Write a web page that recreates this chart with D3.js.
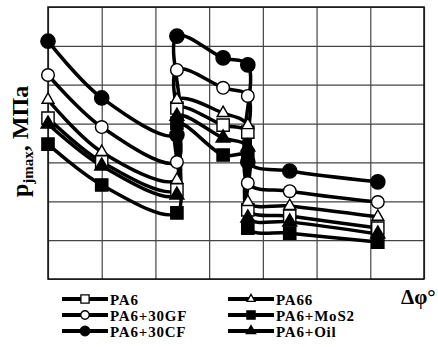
<!DOCTYPE html>
<html>
<head>
<meta charset="utf-8">
<script src="https://cdn.jsdelivr.net/npm/d3@7"></script>
<style>
  body { margin: 0; background: #fff; }
  text { font-family: "Liberation Serif", "Times New Roman", serif; font-weight: bold; fill: #000; }
</style>
</head>
<body>
<script>
// chart size
var width = 438;
var height = 347;

// x positions of the points (grid units), the jumps repeat an x value
var xPos = [0, 1, 2.4, 2.4, 3.26, 3.72, 3.72, 4.5, 6.14];

// series values (grid units, 7 rows)
var pa6    = [4.14, 3.01, 2.29, 4.40, 3.96, 3.78, 1.78, 1.62, 1.31];
var pa66   = [4.61, 3.27, 2.55, 4.61, 4.27, 3.96, 1.98, 1.88, 1.60];
var pa6gf  = [5.25, 3.91, 3.01, 5.38, 4.92, 4.71, 2.47, 2.26, 1.98];
var pa6mos = [3.47, 2.42, 1.70, 4.01, 3.19, 3.17, 1.31, 1.18, 0.95];
var pa6cf  = [6.12, 4.66, 3.71, 6.25, 5.69, 5.51, 3.01, 2.78, 2.50];
var pa6oil = [3.99, 2.91, 2.16, 4.19, 3.63, 3.40, 1.57, 1.47, 1.16];

var names   = ["PA6", "PA66", "PA6+30GF", "PA6+MoS2", "PA6+30CF", "PA6+Oil"];
var gridX = d3.range(0, 8);
var gridY = d3.range(0, 8);

var series = [
  { name: names[0], values: pa6,    shape: d3.symbolSquare,   size: 150, fill: "#fff" },
  { name: names[1], values: pa66,   shape: d3.symbolTriangle, size: 62,  fill: "#fff" },
  { name: names[2], values: pa6gf,  shape: d3.symbolCircle,   size: 125, fill: "#fff" },
  { name: names[3], values: pa6mos, shape: d3.symbolSquare,   size: 150, fill: "#000" },
  { name: names[4], values: pa6cf,  shape: d3.symbolCircle,   size: 160, fill: "#000" },
  { name: names[5], values: pa6oil, shape: d3.symbolTriangle, size: 85,  fill: "#000" }
];

var svg = d3.select("body").append("svg")
  .attr("width", width)
  .attr("height", height);

// scales
var x = d3.scaleLinear().domain([0, 7]).range([48, 424]);
var y = d3.scaleLinear().domain([0, 7]).range([279, 7]);

// grid
svg.append("g")
  .attr("transform", "translate(0,279)")
  .call(d3.axisBottom(x).tickValues(gridX).tickSize(-272).tickFormat(""))
  .call(function(g) { g.select(".domain").remove(); })
  .selectAll("line").attr("stroke", "#444").attr("stroke-width", 1.2);

svg.append("g")
  .attr("transform", "translate(48,0)")
  .call(d3.axisLeft(y).tickValues(gridY).tickSize(-376).tickFormat(""))
  .call(function(g) { g.select(".domain").remove(); })
  .selectAll("line").attr("stroke", "#444").attr("stroke-width", 1.2);

svg.append("rect")
  .attr("x", 48).attr("y", 7)
  .attr("width", 376).attr("height", 272)
  .attr("fill", "none").attr("stroke", "#111").attr("stroke-width", 1.5);

// lines
var line = d3.line()
  .x(function(d, i) { return x(xPos[i]); })
  .y(function(d) { return y(d); })
  .curve(d3.curveCatmullRom.alpha(0.5));

series.forEach(function(s) {
  svg.append("path")
    .datum(s.values)
    .attr("d", line)
    .attr("fill", "none")
    .attr("stroke", "#000")
    .attr("stroke-width", 3.5);
});

// markers
series.forEach(function(s) {
  svg.append("g").selectAll("path")
    .data(s.values)
    .enter().append("path")
    .attr("transform", function(d, i) { return "translate(" + x(xPos[i]) + "," + y(d) + ")"; })
    .attr("d", d3.symbol().type(s.shape).size(s.size))
    .attr("fill", s.fill)
    .attr("stroke", "#000")
    .attr("stroke-width", 1.4);
});

// y label
var yl = svg.append("text")
  .attr("transform", "translate(28,197) rotate(-90)")
  .style("font-size", "24px");
yl.append("tspan").text("p");
yl.append("tspan").attr("dy", 5).style("font-size", "15px").text("jmax");
yl.append("tspan").attr("dy", -5).text(", МПа");

// x label
svg.append("text")
  .attr("x", 401).attr("y", 304)
  .style("font-size", "21px")
  .text("Δφ°");

// legend
var legendPos = [
  { x: 62,  y: 299 }, { x: 228, y: 299 },
  { x: 62,  y: 315 }, { x: 228, y: 315 },
  { x: 62,  y: 331 }, { x: 228, y: 331 }
];

series.forEach(function(s, i) {
  var p = legendPos[i];
  var g = svg.append("g").attr("transform", "translate(" + p.x + "," + p.y + ")");
  g.append("line")
    .attr("x1", 0).attr("x2", 46)
    .attr("stroke", "#000").attr("stroke-width", 4);
  g.append("path")
    .attr("transform", "translate(23,0)")
    .attr("d", d3.symbol().type(s.shape).size(s.size * 0.45))
    .attr("fill", s.fill)
    .attr("stroke", "#000")
    .attr("stroke-width", 1.3);
  g.append("text")
    .attr("x", 48).attr("y", 5.5)
    .style("font-size", "15px")
    .style("letter-spacing", "0.8px")
    .text(s.name);
});
</script>
</body>
</html>
